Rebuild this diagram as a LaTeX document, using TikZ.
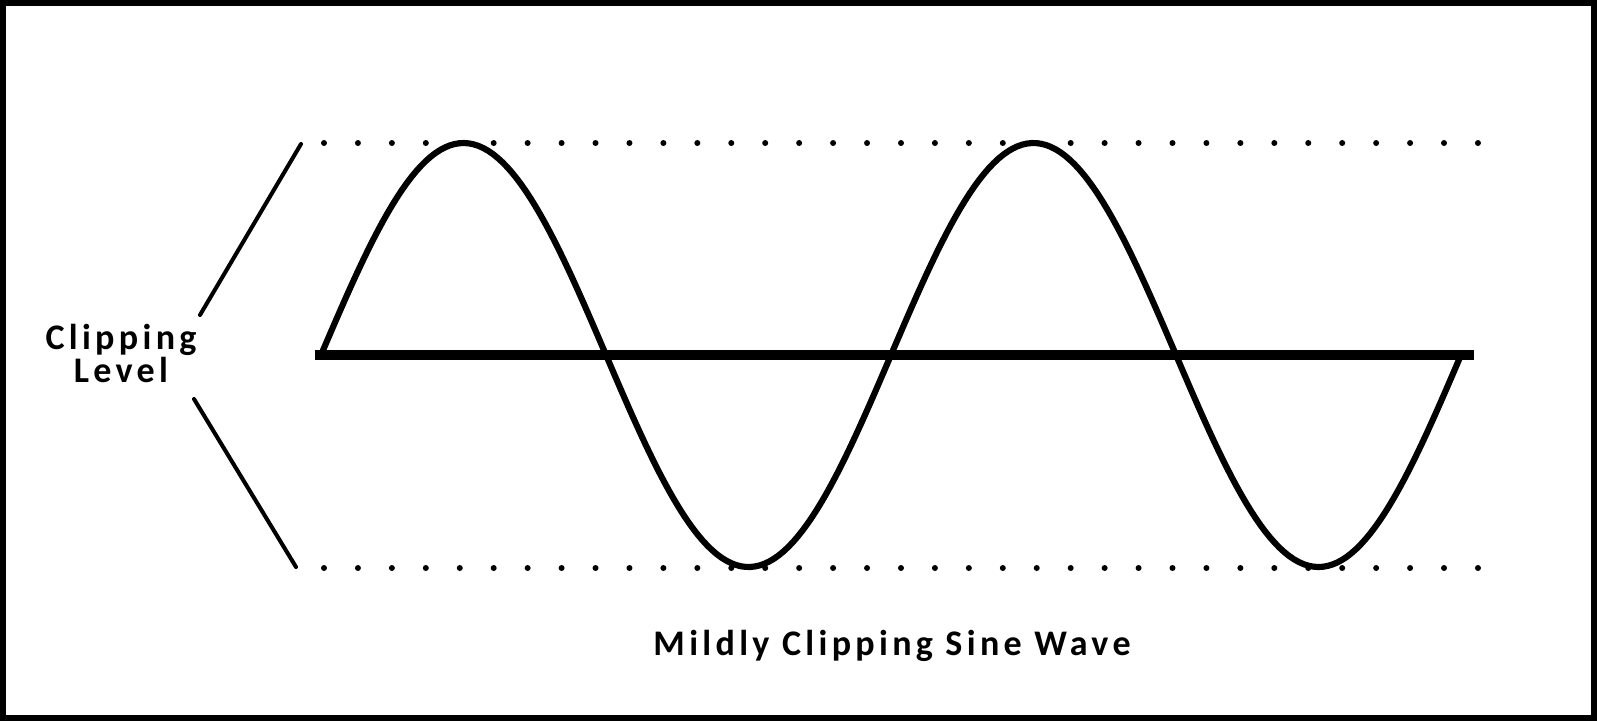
\documentclass[tikz,border=0pt]{standalone}
\usepackage{fontspec}
\newfontfamily\wavefont{Carlito}[LetterSpace=12]
\begin{document}
\begin{tikzpicture}[
  x=0.02cm, y=-0.02cm,
  every node/.style={font=\wavefont\bfseries\fontsize{20.5}{22}\selectfont, inner sep=0pt},
  wave/.style={line width=3.5pt, line join=round},
  axis/.style={line width=5.7pt},
  lead/.style={line width=2.3pt, line cap=round},
  frame/.style={line width=3.4pt}
]
  \useasboundingbox (0,0) rectangle (1597,721);
  \draw[frame] (3,3) rectangle (1594,718);

  % clipping levels
  \foreach \i in {0,...,34} {
    \fill (324+\i*33.94,143) circle (3);
    \fill (324+\i*33.94,568) circle (3);
  }

  % zero line and wave
  \coordinate (ax0) at (315,355);
  \coordinate (ax1) at (1474,355);
  \draw[axis] (ax0) -- (ax1);
  \draw[wave] plot[domain=321:1461, samples=240] (\x, {355-212*sin((\x-321)/570*360)});

  % labels
  \node[anchor=base] (clip) at (121,349) {Clipping};
  \node[anchor=base] (lev)  at (121,382) {Level};
  \node[anchor=base] (title) at (892,655) {Mildly Clipping Sine Wave};

  \coordinate (up0) at (200,315);
  \coordinate (up1) at (301,144);
  \coordinate (dn0) at (194,399);
  \coordinate (dn1) at (296,567);
  \draw[lead] (up0) -- (up1);
  \draw[lead] (dn0) -- (dn1);
\end{tikzpicture}
\end{document}
